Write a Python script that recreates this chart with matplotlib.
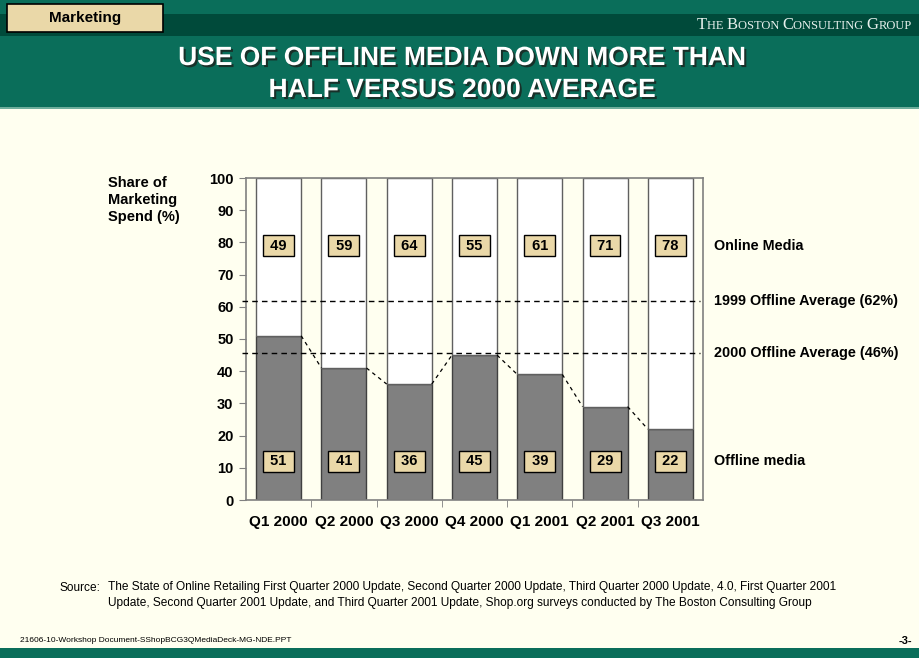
import numpy as np
import matplotlib.pyplot as plt
from matplotlib.patches import Rectangle
from matplotlib.offsetbox import TextArea, HPacker, AnchoredOffsetbox
import matplotlib.patheffects as pe

plt.rcParams['font.family'] = ['Liberation Sans', 'DejaVu Sans']

# Data
quarters = ['Q1 2000', 'Q2 2000', 'Q3 2000', 'Q4 2000', 'Q1 2001', 'Q2 2001', 'Q3 2001']
offline = [51, 41, 36, 45, 39, 29, 22]
online = [49, 59, 64, 55, 61, 71, 78]
avg_1999 = 61.8
avg_2000 = 45.6
avg_labels = ['1999 Offline Average (62%)', '2000 Offline Average (46%)']

bg = '#FFFFF0'
green = '#0A6E5A'
dark_green = '#004A3A'
tan = '#EAD8A8'

fig = plt.figure(figsize=(9.2, 6.58), dpi=100, facecolor=bg)

# Header
fig.patches.append(Rectangle((0, 1 - 108/658), 1, 108/658, transform=fig.transFigure,
                             facecolor=green, edgecolor='none', zorder=0))
fig.patches.append(Rectangle((0, 1 - 109/658), 1, 2/658, transform=fig.transFigure,
                             facecolor='#6FAE9C', edgecolor='none', zorder=0))
fig.patches.append(Rectangle((0, 1 - 36/658), 1, 22/658, transform=fig.transFigure,
                             facecolor=dark_green, edgecolor='none', zorder=0))
fig.patches.append(Rectangle((7/920, 1 - 32/658), 156/920, 28/658, transform=fig.transFigure,
                             facecolor=tan, edgecolor='black', linewidth=1.2, zorder=1))
fig.text(85/920, 1 - 18/658, 'Marketing', ha='center', va='center', fontsize=11,
         fontweight='bold', color='black')

# small caps firm name
parts = [('T', 12), ('HE ', 9), ('B', 12), ('OSTON ', 9), ('C', 12), ('ONSULTING ', 9),
         ('G', 12), ('ROUP', 9)]
boxes = [TextArea(s, textprops=dict(fontsize=fs, family='Liberation Serif', color='#E6F0EC'))
         for s, fs in parts]
pack = HPacker(children=boxes, align='baseline', pad=0, sep=0)
anch = AnchoredOffsetbox(loc='center right', child=pack, frameon=False,
                         bbox_to_anchor=(912/920, 1 - 25/658), bbox_transform=fig.transFigure,
                         borderpad=0, pad=0)
fig.add_artist(anch)

title = 'USE OF OFFLINE MEDIA DOWN MORE THAN\nHALF VERSUS 2000 AVERAGE'
fig.text(462/920, 1 - 74/658, title, ha='center', va='center', fontsize=19,
         fontweight='bold', color='white', linespacing=1.42,
         path_effects=[pe.withSimplePatchShadow(offset=(1.5, -1.5), shadow_rgbFace='#1A2A24', alpha=0.9)])

# Bottom band
fig.patches.append(Rectangle((0, 0), 1, 10/658, transform=fig.transFigure,
                             facecolor=green, edgecolor='none', zorder=0))

# Chart
ax = fig.add_axes([246/920, 1 - 500/658, 457/920, 322/658])
ax.set_facecolor(bg)
x = np.arange(len(quarters))
bw = 0.69
ax.bar(x, offline, bw, color='#808080', edgecolor='#404040', linewidth=1, zorder=2)
ax.bar(x, online, bw, bottom=offline, color='white', edgecolor='#606060', linewidth=1, zorder=2)

# connectors between bar tops
for i in range(len(x) - 1):
    ax.plot([x[i] + bw/2, x[i+1] - bw/2], [offline[i], offline[i+1]], color='black',
            linestyle=(0, (3, 3)), linewidth=0.9, zorder=3)

ax.axhline(avg_1999, xmin=-0.008, xmax=0.993, color='black', linestyle=(0, (4, 3)),
           linewidth=1, zorder=4, clip_on=False)
ax.axhline(avg_2000, xmin=-0.008, xmax=0.993, color='black', linestyle=(0, (4, 3)),
           linewidth=1, zorder=4, clip_on=False)

box = dict(boxstyle='square,pad=0.22', facecolor=tan, edgecolor='black', linewidth=1)
for xi, on, off in zip(x, online, offline):
    ax.text(xi, 79, f' {on} ', ha='center', va='center', fontsize=10.5, fontweight='bold',
            bbox=box, zorder=5)
    ax.text(xi, 12, f' {off} ', ha='center', va='center', fontsize=10.5, fontweight='bold',
            bbox=box, zorder=5)

ax.set_xlim(-0.5, len(quarters) - 0.5)
ax.set_ylim(0, 100)
ax.set_yticks(np.arange(0, 101, 10))
ax.set_xticks(x)
ax.set_xticklabels(quarters, fontsize=11, fontweight='bold')
ax.set_xticks(x[:-1] + 0.5, minor=True)
ax.tick_params(axis='x', which='major', length=0, pad=11)
ax.tick_params(axis='x', which='minor', length=5, color='#808080', direction='out')
ax.tick_params(axis='y', length=5, color='#808080', direction='out', pad=4)
for lab in ax.get_yticklabels():
    lab.set_fontsize(10.5)
    lab.set_fontweight('bold')
for s in ax.spines.values():
    s.set_color('#808080')
    s.set_linewidth(1.2)

# right-hand labels
lx = len(quarters) - 0.5 + 11/65.3
for yv, lab in [(79, 'Online Media'), (avg_1999, avg_labels[0]), (avg_2000, avg_labels[1]),
                (12, 'Offline media')]:
    ax.text(lx, yv, lab, ha='left', va='center', fontsize=10.4, fontweight='bold', clip_on=False)

fig.text(108/920, 1 - 176/658, 'Share of\nMarketing\nSpend (%)', ha='left', va='top',
         fontsize=10.5, fontweight='bold', linespacing=1.25)

# source & footer
fig.text(60/920, 1 - 588/658, 'Source:', ha='left', va='center', fontsize=8.6)
fig.text(108/920, 1 - 595/658,
         'The State of Online Retailing First Quarter 2000 Update, Second Quarter 2000 Update, '
         'Third Quarter 2000 Update, 4.0, First Quarter 2001\nUpdate, Second Quarter 2001 Update, '
         'and Third Quarter 2001 Update, Shop.org surveys conducted by The Boston Consulting Group',
         ha='left', va='center', fontsize=8.6, linespacing=1.4)
fig.text(20/920, 1 - 641/658, '21606-10-Workshop Document-SShopBCG3QMediaDeck-MG-NDE.PPT',
         ha='left', va='center', fontsize=6)
fig.text(912/920, 1 - 641/658, '-3-', ha='right', va='center', fontsize=8, fontweight='bold')

fig.savefig('out.png', dpi=100, facecolor=bg)
